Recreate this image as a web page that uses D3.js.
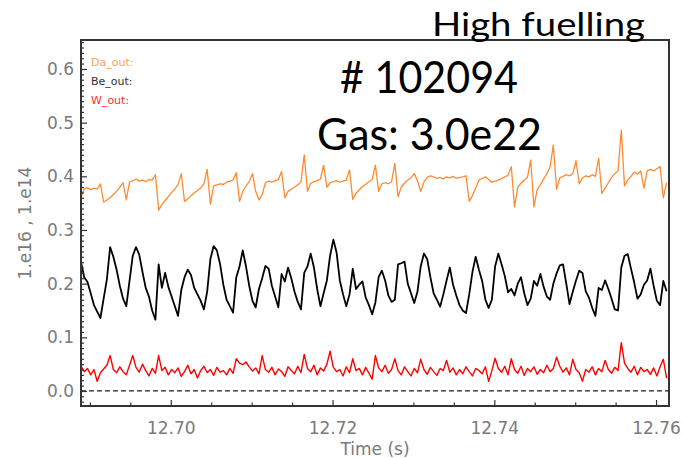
<!DOCTYPE html>
<html>
<head>
<meta charset="utf-8">
<script src="https://cdn.jsdelivr.net/npm/d3@7"></script>
<style>
  html, body { margin: 0; padding: 0; background: #fff; }
  svg { display: block; }
</style>
</head>
<body>
<script>
// Sampling grid of the signals (s)
const t0 = 12.6889;
const dt = 0.0004;

// D-alpha outer signal (1.e16)
const daOut = [
  0.362,0.377,0.379,0.375,0.378,0.376,0.386,0.352,0.356,0.360,
  0.366,0.372,0.380,0.388,0.356,0.389,0.392,0.395,0.391,0.393,
  0.390,0.394,0.393,0.403,0.337,0.347,0.355,0.362,0.370,0.376,
  0.385,0.405,0.353,0.358,0.364,0.369,0.374,0.378,0.386,0.413,
  0.348,0.382,0.384,0.386,0.385,0.389,0.391,0.393,0.407,0.353,
  0.372,0.382,0.390,0.405,0.372,0.356,0.366,0.388,0.391,0.389,
  0.392,0.394,0.409,0.360,0.372,0.376,0.380,0.384,0.390,0.440,
  0.372,0.387,0.390,0.392,0.395,0.421,0.380,0.388,0.390,0.392,
  0.389,0.391,0.393,0.412,0.357,0.368,0.375,0.381,0.385,0.390,
  0.394,0.421,0.372,0.386,0.388,0.386,0.390,0.424,0.362,0.380,
  0.387,0.393,0.397,0.405,0.392,0.372,0.389,0.398,0.401,0.399,
  0.396,0.398,0.395,0.399,0.397,0.400,0.396,0.398,0.399,0.401,
  0.353,0.364,0.378,0.393,0.396,0.399,0.394,0.389,0.391,0.393,
  0.396,0.399,0.402,0.418,0.343,0.380,0.387,0.393,0.398,0.430,
  0.343,0.375,0.384,0.395,0.405,0.418,0.458,0.376,0.397,0.400,
  0.403,0.401,0.405,0.429,0.386,0.397,0.401,0.399,0.403,0.400,
  0.434,0.368,0.378,0.388,0.398,0.405,0.410,0.486,0.382,0.393,
  0.400,0.408,0.404,0.410,0.378,0.410,0.413,0.410,0.414,0.418,
  0.360,0.388
];

// Beryllium outer signal (1.e14)
const beOut = [
  0.240,0.212,0.203,0.182,0.160,0.148,0.136,0.172,0.208,0.268,
  0.250,0.226,0.196,0.172,0.158,0.205,0.252,0.268,0.254,0.222,
  0.192,0.176,0.150,0.133,0.236,0.192,0.220,0.194,0.176,0.158,
  0.140,0.188,0.212,0.226,0.216,0.192,0.180,0.168,0.152,0.185,
  0.246,0.270,0.262,0.236,0.198,0.170,0.158,0.146,0.212,0.232,
  0.262,0.232,0.196,0.168,0.156,0.190,0.210,0.233,0.228,0.196,
  0.176,0.156,0.218,0.204,0.230,0.210,0.185,0.166,0.152,0.220,
  0.232,0.256,0.230,0.190,0.158,0.182,0.206,0.252,0.282,0.258,
  0.206,0.180,0.158,0.180,0.228,0.190,0.198,0.204,0.174,0.160,
  0.143,0.165,0.212,0.224,0.206,0.178,0.166,0.170,0.236,0.238,
  0.241,0.200,0.182,0.164,0.185,0.232,0.256,0.246,0.212,0.182,
  0.170,0.157,0.180,0.206,0.230,0.198,0.178,0.160,0.150,0.145,
  0.180,0.222,0.250,0.226,0.205,0.170,0.155,0.170,0.232,0.256,
  0.236,0.214,0.184,0.190,0.178,0.200,0.212,0.182,0.160,0.172,
  0.205,0.196,0.218,0.194,0.176,0.170,0.200,0.219,0.234,0.236,
  0.200,0.162,0.185,0.206,0.224,0.220,0.186,0.174,0.155,0.140,
  0.192,0.188,0.206,0.190,0.172,0.152,0.150,0.230,0.252,0.255,
  0.228,0.202,0.172,0.180,0.198,0.206,0.228,0.196,0.168,0.160,
  0.205,0.186
];

// Tungsten outer signal (1.e14)
const wOut = [
  0.046,0.036,0.042,0.030,0.040,0.018,0.034,0.041,0.048,0.066,
  0.040,0.034,0.045,0.036,0.030,0.048,0.066,0.044,0.035,0.050,
  0.038,0.028,0.042,0.033,0.066,0.038,0.044,0.030,0.040,0.034,
  0.043,0.027,0.036,0.048,0.032,0.040,0.024,0.038,0.046,0.034,
  0.040,0.029,0.044,0.035,0.038,0.030,0.042,0.033,0.060,0.052,
  0.049,0.054,0.045,0.037,0.043,0.032,0.066,0.040,0.035,0.044,
  0.030,0.041,0.036,0.027,0.045,0.038,0.032,0.046,0.034,0.068,
  0.042,0.036,0.048,0.030,0.043,0.037,0.050,0.074,0.044,0.036,
  0.040,0.028,0.045,0.034,0.060,0.038,0.042,0.030,0.044,0.033,
  0.022,0.066,0.043,0.036,0.048,0.033,0.040,0.060,0.038,0.030,
  0.045,0.036,0.028,0.042,0.034,0.059,0.040,0.031,0.044,0.036,
  0.029,0.042,0.038,0.057,0.035,0.043,0.030,0.040,0.032,0.045,
  0.036,0.028,0.042,0.038,0.032,0.045,0.018,0.038,0.061,0.042,
  0.035,0.046,0.030,0.060,0.040,0.033,0.046,0.029,0.042,0.036,
  0.045,0.031,0.040,0.034,0.048,0.036,0.042,0.063,0.046,0.035,
  0.043,0.030,0.059,0.040,0.034,0.018,0.040,0.035,0.045,0.030,
  0.042,0.036,0.057,0.040,0.033,0.044,0.038,0.090,0.052,0.042,
  0.035,0.046,0.030,0.044,0.036,0.040,0.031,0.043,0.028,0.045,
  0.059,0.024
];

const seriesNames = ["Da_out:", "Be_out:", "W_out:"];
const seriesColors = ["#ff8a30", "#000000", "#ff0000"];
const xTickValues = [12.70, 12.72, 12.74, 12.76];
const yTickValues = [0.0, 0.1, 0.2, 0.3, 0.4, 0.5, 0.6];
const xDomain = [12.6889, 12.7616];
const yDomain = [-0.028, 0.654];

const W = 683, H = 458;
const plot = { left: 81, top: 40, right: 669, bottom: 406 };

const svg = d3.select("body").append("svg")
  .attr("width", W).attr("height", H)
  .attr("font-family", "'DejaVu Sans', sans-serif");

const x = d3.scaleLinear().domain(xDomain).range([plot.left, plot.right]);
const y = d3.scaleLinear().domain(yDomain).range([plot.bottom, plot.top]);

svg.append("clipPath").attr("id", "plotClip")
  .append("rect")
  .attr("x", plot.left).attr("y", plot.top)
  .attr("width", plot.right - plot.left).attr("height", plot.bottom - plot.top);

// Zero reference line
svg.append("line")
  .attr("x1", plot.left).attr("x2", plot.right)
  .attr("y1", y(0)).attr("y2", y(0))
  .attr("stroke", "#222").attr("stroke-width", 1.3)
  .attr("stroke-dasharray", "5,3");

// Signal traces
const line = d3.line()
  .x((d, i) => x(t0 + i * dt))
  .y(d => y(d));

const traces = svg.append("g").attr("clip-path", "url(#plotClip)");
[[daOut, 0, 1.3], [beOut, 1, 1.8], [wOut, 2, 1.4]].forEach(([vals, k, sw]) => {
  traces.append("path")
    .datum(vals)
    .attr("fill", "none")
    .attr("stroke", seriesColors[k])
    .attr("stroke-width", sw)
    .attr("stroke-linejoin", "round")
    .attr("d", line);
});

// Axes: ticks point into the plot, labels outside
const axisColor = "#333";
const labelColor = "#7a7a7a";

const xAxis = d3.axisBottom(x)
  .tickValues(xTickValues)
  .tickFormat(d3.format(".2f"))
  .tickSizeInner(-6).tickSizeOuter(0).tickPadding(16);
const gx = svg.append("g").attr("transform", `translate(0,${plot.bottom})`).call(xAxis);

const xMinor = d3.axisBottom(x)
  .tickValues(d3.range(12.690, 12.7616, 0.005).filter(v => !xTickValues.some(t => Math.abs(t - v) < 1e-6)))
  .tickFormat("").tickSizeInner(-3.5).tickSizeOuter(0);
const gxm = svg.append("g").attr("transform", `translate(0,${plot.bottom})`).call(xMinor);

const yAxis = d3.axisLeft(y)
  .tickValues(yTickValues)
  .tickFormat(d3.format(".1f"))
  .tickSizeInner(-6).tickSizeOuter(0).tickPadding(7);
const gy = svg.append("g").attr("transform", `translate(${plot.left},0)`).call(yAxis);

const yMinor = d3.axisLeft(y)
  .tickValues(d3.range(-0.02, 0.655, 0.01).filter(v => !yTickValues.some(t => Math.abs(t - v) < 1e-6)))
  .tickFormat("").tickSizeInner(-3).tickSizeOuter(0);
const gym = svg.append("g").attr("transform", `translate(${plot.left},0)`).call(yMinor);

[gx, gxm, gy, gym].forEach(g => {
  g.select(".domain").remove();
  g.selectAll(".tick line").attr("stroke", axisColor).attr("stroke-width", 1.2);
  g.selectAll(".tick text")
    .attr("fill", labelColor)
    .attr("font-size", 17)
    .attr("font-family", "'DejaVu Sans', sans-serif");
});

// Plot frame
svg.append("rect")
  .attr("x", plot.left).attr("y", plot.top)
  .attr("width", plot.right - plot.left).attr("height", plot.bottom - plot.top)
  .attr("fill", "none").attr("stroke", axisColor).attr("stroke-width", 2);

// Axis titles
svg.append("text")
  .attr("x", 375).attr("y", 455)
  .attr("text-anchor", "middle")
  .attr("fill", labelColor).attr("font-size", 17)
  .text("Time (s)");

svg.append("text")
  .attr("transform", "translate(31,223) rotate(-90)")
  .attr("text-anchor", "middle")
  .attr("fill", labelColor).attr("font-size", 17)
  .text("1.e16 , 1.e14");

// Legend
seriesNames.forEach((name, k) => {
  svg.append("text")
    .attr("x", 91).attr("y", 66 + k * 19)
    .attr("fill", k === 0 ? "#ffa060" : (k === 2 ? "#ff3030" : "#333"))
    .attr("font-size", 11)
    .text(name);
});

// Annotations
const notes = [
  { text: "High fuelling", x: 432, y: 36, size: 32, len: 213 },
  { text: "# 102094", x: 340, y: 93, size: 44, len: 178 },
  { text: "Gas: 3.0e22", x: 317, y: 150, size: 44, len: 225 }
];
notes.forEach(n => {
  svg.append("text")
    .attr("x", n.x).attr("y", n.y)
    .attr("font-family", "Lato, 'Open Sans', sans-serif")
    .attr("font-size", n.size)
    .attr("fill", "#000")
    .attr("textLength", n.len)
    .attr("lengthAdjust", "spacingAndGlyphs")
    .text(n.text);
});
</script>
</body>
</html>
